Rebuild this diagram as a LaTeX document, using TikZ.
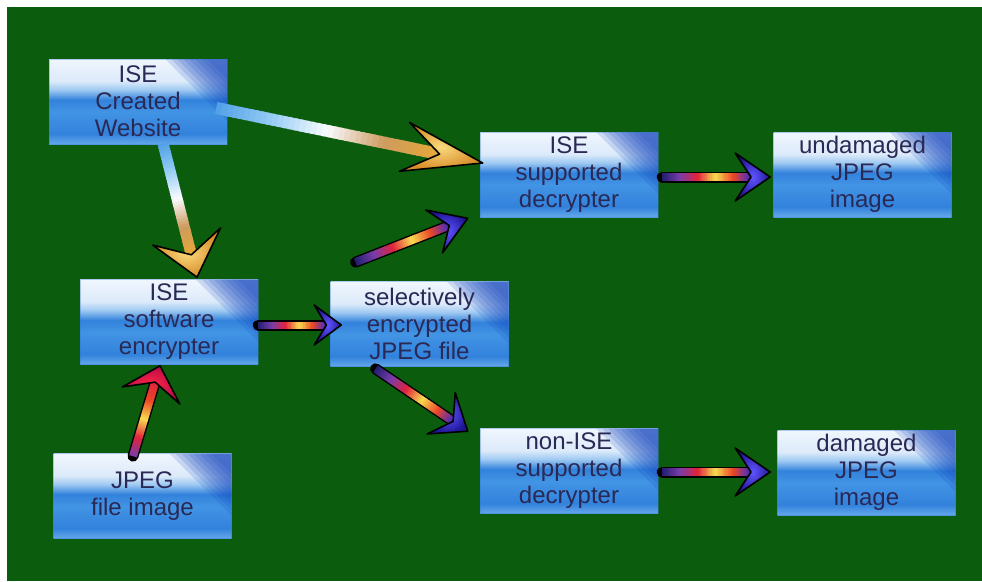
\documentclass[tikz,border=0pt]{standalone}
\usepackage{fontspec}
\setmainfont{Liberation Sans}
\usetikzlibrary{calc}
\definecolor{bg}{RGB}{12,92,14}
\definecolor{txt}{RGB}{42,40,84}
\definecolor{boxtop}{RGB}{240,246,253}
\definecolor{boxpale}{RGB}{220,234,250}
\definecolor{boxlight}{RGB}{160,202,242}
\definecolor{boxmid}{RGB}{66,148,228}
\definecolor{boxmidd}{RGB}{50,130,220}
\definecolor{boxbot}{RGB}{100,168,234}
\definecolor{boxdeep}{RGB}{20,70,190}
\definecolor{aNavy}{RGB}{30,30,110}
\definecolor{aPurp}{RGB}{120,60,170}
\definecolor{aRed}{RGB}{225,35,60}
\definecolor{aYel}{RGB}{248,220,80}
\definecolor{aOr}{RGB}{235,70,40}
\definecolor{aBlue}{RGB}{60,40,200}
\definecolor{hBlueIn}{RGB}{95,85,255}
\definecolor{hBlueOut}{RGB}{30,20,150}
\definecolor{hRedIn}{RGB}{255,40,70}
\definecolor{hRedOut}{RGB}{185,10,70}
\definecolor{gBlue}{RGB}{80,160,230}
\definecolor{gLBlue}{RGB}{150,205,245}
\definecolor{gWhite}{RGB}{250,252,255}
\definecolor{gTan}{RGB}{205,155,95}
\definecolor{gGold}{RGB}{232,168,56}
\definecolor{hGoldIn}{RGB}{250,218,125}
\definecolor{hGoldOut}{RGB}{215,140,40}
\pgfdeclareverticalshading{boxsh}{100bp}{color(0bp)=(boxbot); color(25bp)=(boxbot); color(31bp)=(boxmidd); color(44bp)=(boxmid); color(51bp)=(boxmidd); color(57bp)=(boxlight); color(62bp)=(boxpale); color(75bp)=(boxtop); color(100bp)=(boxtop)}
% #1 tail, #2 tip, #3 shaft width, #4 outline style, #5 head length, #6 head half width,
% #7 head fill style, #8 number of colour segments, #9 colour pairs
\newcommand\garrow[9]{%
  \pgfmathsetmacro\gaN{0.55*#5}%
  \coordinate (ga-e) at ($(#2)!\gaN pt!(#1)$);
  \coordinate (ga-b) at ($(#2)!#5pt!(#1)$);
  \coordinate (ga-l) at ($(ga-b)!#6pt!90:(#2)$);
  \coordinate (ga-r) at ($(ga-b)!#6pt!-90:(#2)$);
  \draw[#4, line cap=round] (#1) -- (ga-e);
  \foreach \ca/\cb [count=\k] in {#9} {
    \foreach \j in {0,...,9} {
      \pgfmathsetmacro\ta{((\k-1)+\j/10)/#8}
      \pgfmathsetmacro\tb{min(((\k-1)+(\j+1.5)/10)/#8,1)}
      \pgfmathtruncatemacro\p{\j*10+5}
      \draw[line width=#3, draw=\cb!\p!\ca] ($(#1)!\ta!(ga-e)$) -- ($(#1)!\tb!(ga-e)$);
    }
  }
  \path[#7, draw=black, line width=1.6pt, line join=round] (#2) -- (ga-l) -- (ga-e) -- (ga-r) -- cycle;
}
\begin{document}
\begin{tikzpicture}[x=1pt, y=-1pt,
  corner/.style={fill=boxdeep, opacity=0.16},
  box/.style={rectangle, minimum width=178pt, minimum height=85pt, inner sep=0pt,
    align=center, font=\fontsize{24}{27}\selectfont, text=txt, shading=boxsh,
    draw=boxdeep!40!boxmid, line width=0.6pt, draw opacity=0.35,
    path picture={
      \foreach \s in {62,56,50,44,38,32,26,20} {
        \fill[corner]
          ([xshift=-\s pt]path picture bounding box.north east) --
          (path picture bounding box.north east) --
          ([yshift=-\s pt]path picture bounding box.north east) -- cycle;
      }
    }},
  outl/.style={draw=black, line width=11pt}]
\useasboundingbox (0,0) rectangle (982,581);
\fill[white] (0,0) rectangle (982,581);
\fill[bg] (7,7) rectangle (982,581);

\node[box] (web) at (138,101.5) {ISE\\Created\\Website};
\node[box] (sup) at (569,174.5) {ISE\\supported\\decrypter};
\node[box] (und) at (862.5,174.5) {undamaged\\JPEG\\image};
\node[box] (enc) at (169,322) {ISE\\software\\encrypter};
\node[box] (jpg) at (142.5,496) {JPEG\\file image};
\node[box] (sel) at (419.5,324) {selectively\\encrypted\\JPEG file};
\node[box] (non) at (569,471) {non-ISE\\supported\\decrypter};
\node[box] (dam) at (866.5,472.5) {damaged\\JPEG\\image};

\coordinate (t1) at ($(web.east)+(-11,6.5)$);
\coordinate (h1) at ($(sup.west)+(3,-11.5)$);
\coordinate (t2) at ($(web.south)+(25,-1)$);
\coordinate (h2) at ($(enc.north)+(28,-2)$);
\coordinate (t3) at ($(jpg.north)+(-9.5,3)$);
\coordinate (h3) at ($(enc.south)+(-9,1)$);
\coordinate (t4) at ($(enc.east)+(0,3)$);
\coordinate (h4) at ($(sel.west)+(11,1)$);
\coordinate (t5) at ($(sel.north)+(-64,-19)$);
\coordinate (h5) at ($(sup.south west)+(-12,1)$);
\coordinate (t6) at ($(sel.south)+(-44,2)$);
\coordinate (h6) at ($(non.north west)+(-12,3)$);
\coordinate (t7) at ($(sup.east)+(4,2.5)$);
\coordinate (h7) at ($(und.west)+(-3,2.5)$);
\coordinate (t8) at ($(non.east)+(4,1)$);
\coordinate (h8) at ($(dam.west)+(-7,-0.5)$);

\garrow{t1}{h1}{12pt}{draw=none}{80}{25}{inner color=hGoldIn, outer color=hGoldOut}{4}{gBlue/gLBlue, gLBlue/gWhite, gWhite/gTan, gTan/gGold}
\garrow{t2}{h2}{11pt}{draw=none}{42}{35}{inner color=hGoldIn, outer color=hGoldOut}{4}{gBlue/gLBlue, gLBlue/gWhite, gWhite/gTan, gTan/gGold}
\garrow{t3}{h3}{8pt}{outl}{31}{30}{inner color=hRedIn, outer color=hRedOut}{4}{aPurp/aRed, aRed/aYel, aYel/aOr, aOr/aRed}
\garrow{t4}{h4}{7pt}{outl}{27}{20}{inner color=hBlueIn, outer color=hBlueOut}{5}{aNavy/aPurp, aPurp/aRed, aRed/aYel, aYel/aOr, aOr/aBlue}
\garrow{t5}{h5}{8pt}{outl}{36}{23}{inner color=hBlueIn, outer color=hBlueOut}{5}{aNavy/aPurp, aPurp/aRed, aRed/aYel, aYel/aOr, aOr/aBlue}
\garrow{t6}{h6}{8pt}{outl}{32}{25}{inner color=hBlueIn, outer color=hBlueOut}{5}{aNavy/aPurp, aPurp/aRed, aRed/aYel, aYel/aOr, aOr/aBlue}
\garrow{t7}{h7}{8pt}{outl}{35}{24}{inner color=hBlueIn, outer color=hBlueOut}{5}{aNavy/aPurp, aPurp/aRed, aRed/aYel, aYel/aOr, aOr/aBlue}
\garrow{t8}{h8}{8pt}{outl}{35}{24}{inner color=hBlueIn, outer color=hBlueOut}{5}{aNavy/aPurp, aPurp/aRed, aRed/aYel, aYel/aOr, aOr/aBlue}
\end{tikzpicture}
\end{document}
